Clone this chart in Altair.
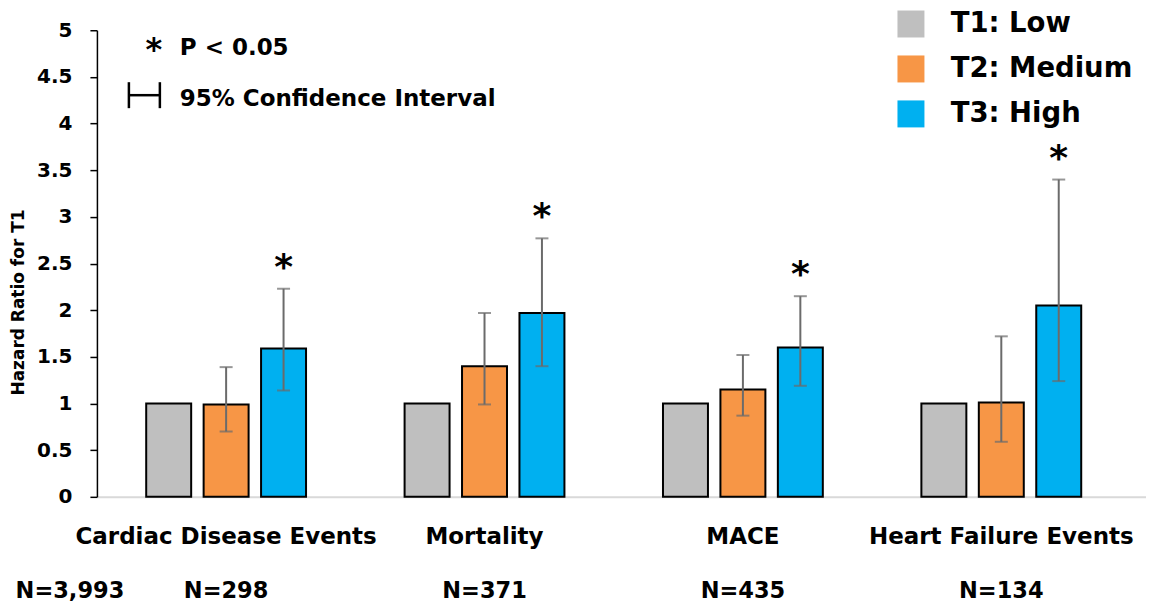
import altair as alt
import pandas as pd

categories = ["Cardiac Disease Events", "Mortality", "MACE", "Heart Failure Events"]
tiers = ["T1: Low", "T2: Medium", "T3: High"]
colors = ["#bfbfbf", "#f79646", "#00b0f0"]

hr_t1 = [1.0, 1.0, 1.0, 1.0]
hr_t2 = [0.99, 1.40, 1.15, 1.01]
hr_t3 = [1.59, 1.97, 1.60, 2.05]
ci_t2_lo = [0.70, 0.99, 0.87, 0.59]
ci_t2_hi = [1.39, 1.97, 1.52, 1.72]
ci_t3_lo = [1.14, 1.40, 1.19, 1.24]
ci_t3_hi = [2.23, 2.77, 2.15, 3.40]
n_labels = ["N=298", "N=371", "N=435", "N=134"]
n_reference = "N=3,993"
y_ticks = [0, 0.5, 1, 1.5, 2, 2.5, 3, 3.5, 4, 4.5, 5]

FONT = "DejaVu Sans"

rows = []
for i, c in enumerate(categories):
    rows.append({"cat": c, "tier": tiers[0], "hr": hr_t1[i]})
    rows.append({"cat": c, "tier": tiers[1], "hr": hr_t2[i]})
    rows.append({"cat": c, "tier": tiers[2], "hr": hr_t3[i]})
bars_df = pd.DataFrame(rows)

ci_rows = []
for i, c in enumerate(categories):
    ci_rows.append({"cat": c, "tier": tiers[1], "lo": ci_t2_lo[i], "hi": ci_t2_hi[i], "sig": False})
    ci_rows.append({"cat": c, "tier": tiers[2], "lo": ci_t3_lo[i], "hi": ci_t3_hi[i], "sig": True})
ci_df = pd.DataFrame(ci_rows)
sig_df = ci_df[ci_df["sig"]]

n_df = pd.DataFrame({"cat": categories, "label": n_labels})

W, H = 1050, 467

x_enc = alt.X("cat:N", sort=categories,
              scale=alt.Scale(paddingInner=0, paddingOuter=0.03, align=0),
              axis=alt.Axis(title=None, labelAngle=0, labelFont=FONT, labelFontSize=23,
                            labelFontWeight="bold", labelColor="black", labelPadding=29,
                            ticks=False, domainColor="#d9d9d9", domainWidth=2,
                            labelLimit=400))
xo = alt.XOffset("tier:N", sort=tiers,
                 scale=alt.Scale(paddingInner=0.217, paddingOuter=0.858))
y_scale = alt.Scale(domain=[0, 5], nice=False)

bars = alt.Chart(bars_df).mark_bar(stroke="black", strokeWidth=2).encode(
    x=x_enc,
    xOffset=xo,
    y=alt.Y("hr:Q", scale=y_scale,
            axis=alt.Axis(title="Hazard Ratio for T1", values=y_ticks, format="~g",
                          grid=False, domainColor="black", domainWidth=1.5,
                          tickColor="black", tickSize=7, tickWidth=1.5,
                          labelFont=FONT, labelFontSize=20, labelFontWeight="bold",
                          labelColor="black", labelPadding=18,
                          titleFont=FONT, titleFontSize=17, titleFontWeight="bold",
                          titleColor="black", titleX=-78, titleY=272,
                          titleAlign="center", titleBaseline="middle")),
    color=alt.Color("tier:N", sort=tiers,
                    scale=alt.Scale(domain=tiers, range=colors),
                    legend=alt.Legend(title=None, orient="none", legendX=801, legendY=-20,
                                      symbolType="square", symbolSize=729,
                                      symbolStrokeWidth=0, symbolOpacity=1,
                                      labelFont=FONT, labelFontSize=27.5,
                                      labelFontWeight="bold", labelColor="black",
                                      labelOffset=26, rowPadding=16, padding=0,
                                      labelLimit=400)),
)

err = alt.Chart(ci_df).mark_rule(color="#6b6b6b", strokeWidth=2).encode(
    x=alt.X("cat:N", sort=categories), xOffset=xo,
    y=alt.Y("lo:Q", scale=y_scale), y2="hi:Q")
cap_lo = alt.Chart(ci_df).mark_tick(color="#6b6b6b", thickness=2, size=13).encode(
    x=alt.X("cat:N", sort=categories), xOffset=xo, y=alt.Y("lo:Q", scale=y_scale))
cap_hi = alt.Chart(ci_df).mark_tick(color="#6b6b6b", thickness=2, size=13).encode(
    x=alt.X("cat:N", sort=categories), xOffset=xo, y=alt.Y("hi:Q", scale=y_scale))

stars = alt.Chart(sig_df).mark_text(text="*", font=FONT, fontSize=36, fontWeight="bold",
                                    color="black", baseline="alphabetic", dy=-10).encode(
    x=alt.X("cat:N", sort=categories), xOffset=xo, y=alt.Y("hi:Q", scale=y_scale))

n_text = alt.Chart(n_df).mark_text(font=FONT, fontSize=22.5, fontWeight="bold",
                                   color="black", baseline="middle").encode(
    x=alt.X("cat:N", sort=categories), y=alt.value(561), text="label:N")
n_ref = alt.Chart(pd.DataFrame({"label": [n_reference]})).mark_text(
    font=FONT, fontSize=22.5, fontWeight="bold", color="black", baseline="middle").encode(
    x=alt.value(-27), y=alt.value(561), text="label:N")

ann_df = pd.DataFrame({"label": ["P < 0.05", "95% Confidence Interval"], "yy": [18, 69]})
ann_text = alt.Chart(ann_df).mark_text(font=FONT, fontSize=23, fontWeight="bold",
                                       color="black", align="left", baseline="middle").encode(
    x=alt.value(83), y=alt.Y("yy:Q", scale=None), text="label:N")
ann_star = alt.Chart(pd.DataFrame({"label": ["*"]})).mark_text(
    font=FONT, fontSize=32, fontWeight="bold", color="black", baseline="alphabetic").encode(
    x=alt.value(57), y=alt.value(30), text="label:N")
ci_h = alt.Chart(pd.DataFrame({"k": [0]})).mark_rule(color="black", strokeWidth=2.5).encode(
    x=alt.value(32), x2=alt.value(63), y=alt.value(65))
ci_v = alt.Chart(pd.DataFrame({"k": [0, 1], "xx": [32, 63]})).mark_rule(
    color="black", strokeWidth=2.5).encode(
    x=alt.X("xx:Q", scale=None), y=alt.value(52), y2=alt.value(78))

chart = alt.layer(bars, err, cap_lo, cap_hi, stars, n_text, n_ref,
                  ann_text, ann_star, ci_h, ci_v).properties(
    width=W, height=H,
    autosize=alt.AutoSizeParams(type="none"),
    padding={"left": 89, "top": 22, "right": 0, "bottom": 112},
).configure_view(stroke=None)

chart.save("out.html", embed_options={"renderer": "svg", "actions": False})
